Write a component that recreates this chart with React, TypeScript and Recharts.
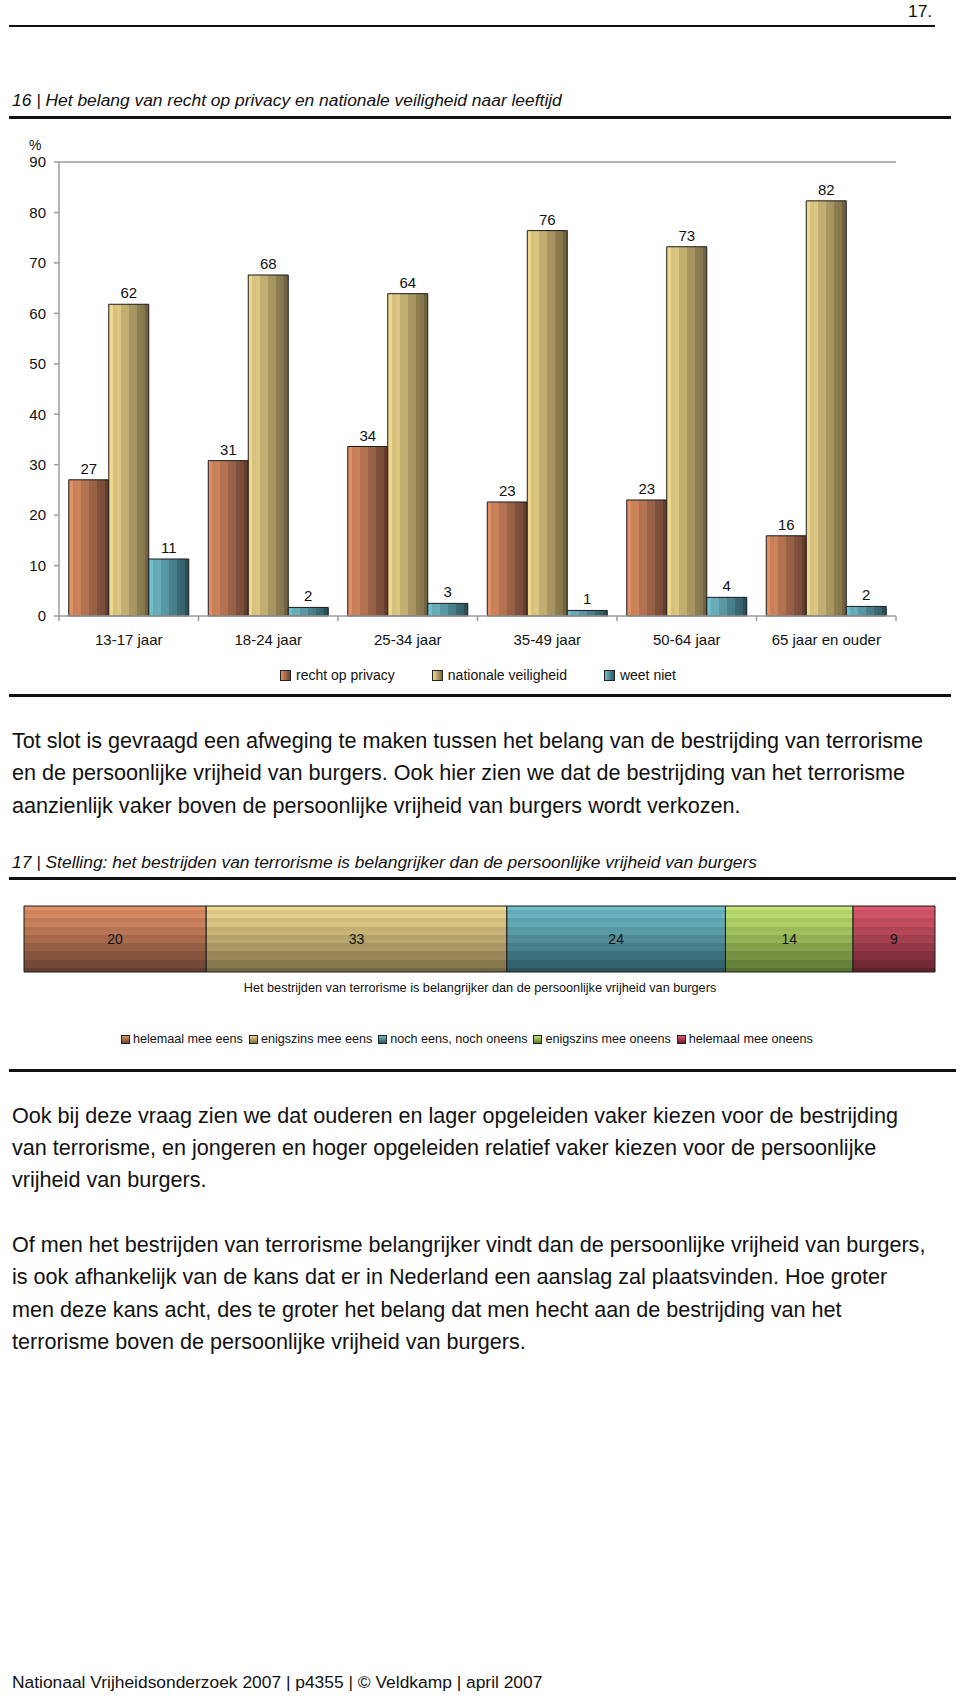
import { BarChart, Bar, XAxis, YAxis, LabelList, ReferenceLine } from 'recharts';

const ageGroups = ['13-17 jaar', '18-24 jaar', '25-34 jaar', '35-49 jaar', '50-64 jaar', '65 jaar en ouder'];
const privacy = [27, 30.8, 33.6, 22.6, 23, 15.9];
const veiligheid = [61.8, 67.6, 63.9, 76.4, 73.2, 82.3];
const weetNiet = [11.3, 1.7, 2.5, 1.1, 3.7, 1.9];
const ageSeries = ['recht op privacy', 'nationale veiligheid', 'weet niet'];
const yTicks = [0, 10, 20, 30, 40, 50, 60, 70, 80, 90];

const stellingLabel = 'Het bestrijden van terrorisme is belangrijker dan de persoonlijke vrijheid van burgers';
const answers = ['helemaal mee eens', 'enigszins mee eens', 'noch eens, noch oneens', 'enigszins mee oneens', 'helemaal mee oneens'];
const answerValues = [20, 33, 24, 14, 9];

const para1 = [
  'Tot slot is gevraagd een afweging te maken tussen het belang van de bestrijding van terrorisme',
  'en de persoonlijke vrijheid van burgers. Ook hier zien we dat de bestrijding van het terrorisme',
  'aanzienlijk vaker boven de persoonlijke vrijheid van burgers wordt verkozen.',
];
const para2 = [
  'Ook bij deze vraag zien we dat ouderen en lager opgeleiden vaker kiezen voor de bestrijding',
  'van terrorisme, en jongeren en hoger opgeleiden relatief vaker kiezen voor de persoonlijke',
  'vrijheid van burgers.',
];
const para3 = [
  'Of men het bestrijden van terrorisme belangrijker vindt dan de persoonlijke vrijheid van burgers,',
  'is ook afhankelijk van de kans dat er in Nederland een aanslag zal plaatsvinden. Hoe groter',
  'men deze kans acht, des te groter het belang dat men hecht aan de bestrijding van het',
  'terrorisme boven de persoonlijke vrijheid van burgers.',
];

const ageColors: [string, string][] = [
  ['#df9064', '#6b4232'],
  ['#efd88e', '#7a6a45'],
  ['#72bfcc', '#2d5560'],
];
const answerColors: [string, string][] = [
  ['#df9064', '#6b4333'],
  ['#efd890', '#7f6f48'],
  ['#70bcc9', '#2f5a66'],
  ['#c2e573', '#5e7a33'],
  ['#da586b', '#6a2431'],
];

const font = '"Liberation Sans", Arial, Helvetica, sans-serif';
const axisGray = '#9c9c9c';
const ink = '#111';

const ageData = ageGroups.map((age, i) => ({
  age,
  privacy: privacy[i],
  veiligheid: veiligheid[i],
  weetNiet: weetNiet[i],
}));
const ageKeys = ['privacy', 'veiligheid', 'weetNiet'];

const stellingRow: Record<string, any> = { name: stellingLabel };
answerValues.forEach((v, i) => (stellingRow['a' + i] = v));
const stellingData = [stellingRow];

function hex(c: string) {
  return [1, 3, 5].map((i) => parseInt(c.slice(i, i + 2), 16));
}
function mix(a: string, b: string, t: number) {
  const A = hex(a);
  const B = hex(b);
  return '#' + A.map((v, i) => Math.round(v + (B[i] - v) * t).toString(16).padStart(2, '0')).join('');
}
function stripes(from: string, to: string, n: number) {
  const out = [];
  for (let k = 0; k < n; k++) {
    let c = mix(from, to, Math.pow(k / (n - 1), 1.2));
    if (k % 2) c = mix(c, '#000000', 0.07);
    out.push(<stop key={k + 'a'} offset={k / n} stopColor={c} />);
    out.push(<stop key={k + 'b'} offset={(k + 1) / n} stopColor={c} />);
  }
  return out;
}

const AgeTick = (props: any) => {
  const { x, y, payload } = props;
  const half = payload.offset || 69.75;
  const last = payload.value === ageGroups[ageGroups.length - 1];
  return (
    <g>
      <line x1={x - half} x2={x - half} y1={y} y2={y + 5} stroke={axisGray} strokeWidth={1.5} />
      {last && <line x1={x + half} x2={x + half} y1={y} y2={y + 5} stroke={axisGray} strokeWidth={1.5} />}
      <text x={x} y={y + 29} textAnchor="middle" fontSize={15} fill={ink} fontFamily={font}>
        {payload.value}
      </text>
    </g>
  );
};

const Rule = ({ top, left = 9, right, h = 3 }: { top: number; left?: number; right: number; h?: number }) => (
  <div style={{ position: 'absolute', top: top - h / 2, left, width: right - left, height: h, background: '#111' }} />
);

const Lines = ({ lines, top, lh }: { lines: string[]; top: number; lh: number }) => (
  <div style={{ position: 'absolute', left: 12, top: top - lh / 2, fontSize: 21.6, lineHeight: lh + 'px', whiteSpace: 'nowrap', color: ink }}>
    {lines.map((l, i) => (
      <div key={i}>{l}</div>
    ))}
  </div>
);

export default function App() {
  return (
    <div style={{ position: 'absolute', left: 0, top: 0, width: 960, height: 1696, background: '#fff', fontFamily: font, color: ink, overflow: 'hidden' }}>
      <div style={{ position: 'absolute', left: 908, top: 0, fontSize: 17.4, lineHeight: '22px' }}>17.</div>
      <Rule top={26} right={935} h={2} />

      <div style={{ position: 'absolute', left: 12, top: 89, fontSize: 17.4, lineHeight: '22px', fontStyle: 'italic', whiteSpace: 'nowrap' }}>
        16 | Het belang van recht op privacy en nationale veiligheid naar leeftijd
      </div>
      <Rule top={117} right={951} />

      <div style={{ position: 'absolute', left: 29, top: 136, fontSize: 14, lineHeight: '18px' }}>%</div>
      <div style={{ position: 'absolute', left: 0, top: 130 }}>
        <BarChart width={960} height={540} data={ageData} margin={{ top: 32, right: 64, left: 0, bottom: 24 }} barCategoryGap="7%" barGap={0}>
          <defs>
            {ageColors.map((c, i) => (
              <linearGradient key={i} id={'vg' + i} x1="0" y1="0" x2="1" y2="0">
                {stripes(c[0], c[1], 10)}
              </linearGradient>
            ))}
          </defs>
          <XAxis dataKey="age" interval={0} tickSize={0} tickMargin={0} tickLine={false} height={30} axisLine={{ stroke: axisGray, strokeWidth: 1.5 }} tick={<AgeTick />} />
          <YAxis
            width={59}
            domain={[0, 90]}
            ticks={yTicks}
            interval={0}
            tickSize={5}
            tickMargin={8}
            tickLine={{ stroke: axisGray, strokeWidth: 1.5 }}
            axisLine={{ stroke: axisGray, strokeWidth: 1.5 }}
            tick={{ fontSize: 15, fill: ink, fontFamily: font }}
          />
          <YAxis yAxisId="r" orientation="right" width={0} domain={[0, 90]} ticks={[]} tick={false} tickLine={false} axisLine={{ stroke: axisGray, strokeWidth: 1.5 }} />
          <ReferenceLine y={90} stroke={axisGray} strokeWidth={1.5} />
          {ageKeys.map((k, i) => (
            <Bar key={k} dataKey={k} name={ageSeries[i]} fill={`url(#vg${i})`} stroke="#1a1a1a" strokeWidth={1} isAnimationActive={false}>
              <LabelList dataKey={k} position="top" offset={6} fontSize={15} fill={ink} fontFamily={font} formatter={(v: any) => Math.round(Number(v))} />
            </Bar>
          ))}
        </BarChart>
      </div>

      <div style={{ position: 'absolute', left: 280, top: 666, display: 'flex', gap: 37, fontSize: 14, lineHeight: '18px', whiteSpace: 'nowrap' }}>
        {ageSeries.map((s, i) => (
          <div key={s} style={{ display: 'flex', alignItems: 'center' }}>
            <span style={{ display: 'inline-block', width: 9, height: 9, border: '1px solid #222', background: `linear-gradient(to right, ${ageColors[i][0]}, ${ageColors[i][1]})`, marginRight: 5 }} />
            {s}
          </div>
        ))}
      </div>
      <Rule top={695} right={951} />

      <Lines lines={para1} top={741} lh={32.5} />

      <div style={{ position: 'absolute', left: 12, top: 851, fontSize: 17.4, lineHeight: '22px', fontStyle: 'italic', whiteSpace: 'nowrap' }}>
        17 | Stelling: het bestrijden van terrorisme is belangrijker dan de persoonlijke vrijheid van burgers
      </div>
      <Rule top={878} right={956} />

      <div style={{ position: 'absolute', left: 23, top: 905 }}>
        <BarChart width={913} height={68} layout="vertical" data={stellingData} margin={{ top: 1, right: 1, left: 1, bottom: 1 }} barCategoryGap={0}>
          <defs>
            {answerColors.map((c, i) => (
              <linearGradient key={i} id={'hg' + i} x1="0" y1="0" x2="0" y2="1">
                {stripes(c[0], c[1], 16)}
              </linearGradient>
            ))}
          </defs>
          <XAxis type="number" domain={[0, 100]} hide />
          <YAxis type="category" dataKey="name" hide />
          {answers.map((a, i) => (
            <Bar key={a} dataKey={'a' + i} name={a} stackId="s" fill={`url(#hg${i})`} stroke="#1a1a1a" strokeWidth={1} isAnimationActive={false}>
              <LabelList dataKey={'a' + i} position="center" fontSize={14} fill={ink} fontFamily={font} />
            </Bar>
          ))}
        </BarChart>
      </div>
      <div style={{ position: 'absolute', left: 0, width: 960, top: 980, textAlign: 'center', fontSize: 12.7, lineHeight: '17px' }}>{stellingLabel}</div>

      <div style={{ position: 'absolute', left: 121, top: 1031, display: 'flex', gap: 6, fontSize: 12.6, lineHeight: '16px', whiteSpace: 'nowrap' }}>
        {answers.map((s, i) => (
          <div key={s} style={{ display: 'flex', alignItems: 'center' }}>
            <span style={{ display: 'inline-block', width: 7, height: 7, border: '1px solid #222', background: `linear-gradient(to bottom, ${answerColors[i][0]}, ${answerColors[i][1]})`, marginRight: 3 }} />
            {s}
          </div>
        ))}
      </div>
      <Rule top={1070} right={956} />

      <Lines lines={para2} top={1116} lh={32} />
      <Lines lines={para3} top={1245} lh={32.6} />

      <div style={{ position: 'absolute', left: 12, top: 1671, fontSize: 17.4, lineHeight: '22px', whiteSpace: 'nowrap' }}>
        Nationaal Vrijheidsonderzoek 2007 | p4355 | © Veldkamp | april 2007
      </div>
    </div>
  );
}
